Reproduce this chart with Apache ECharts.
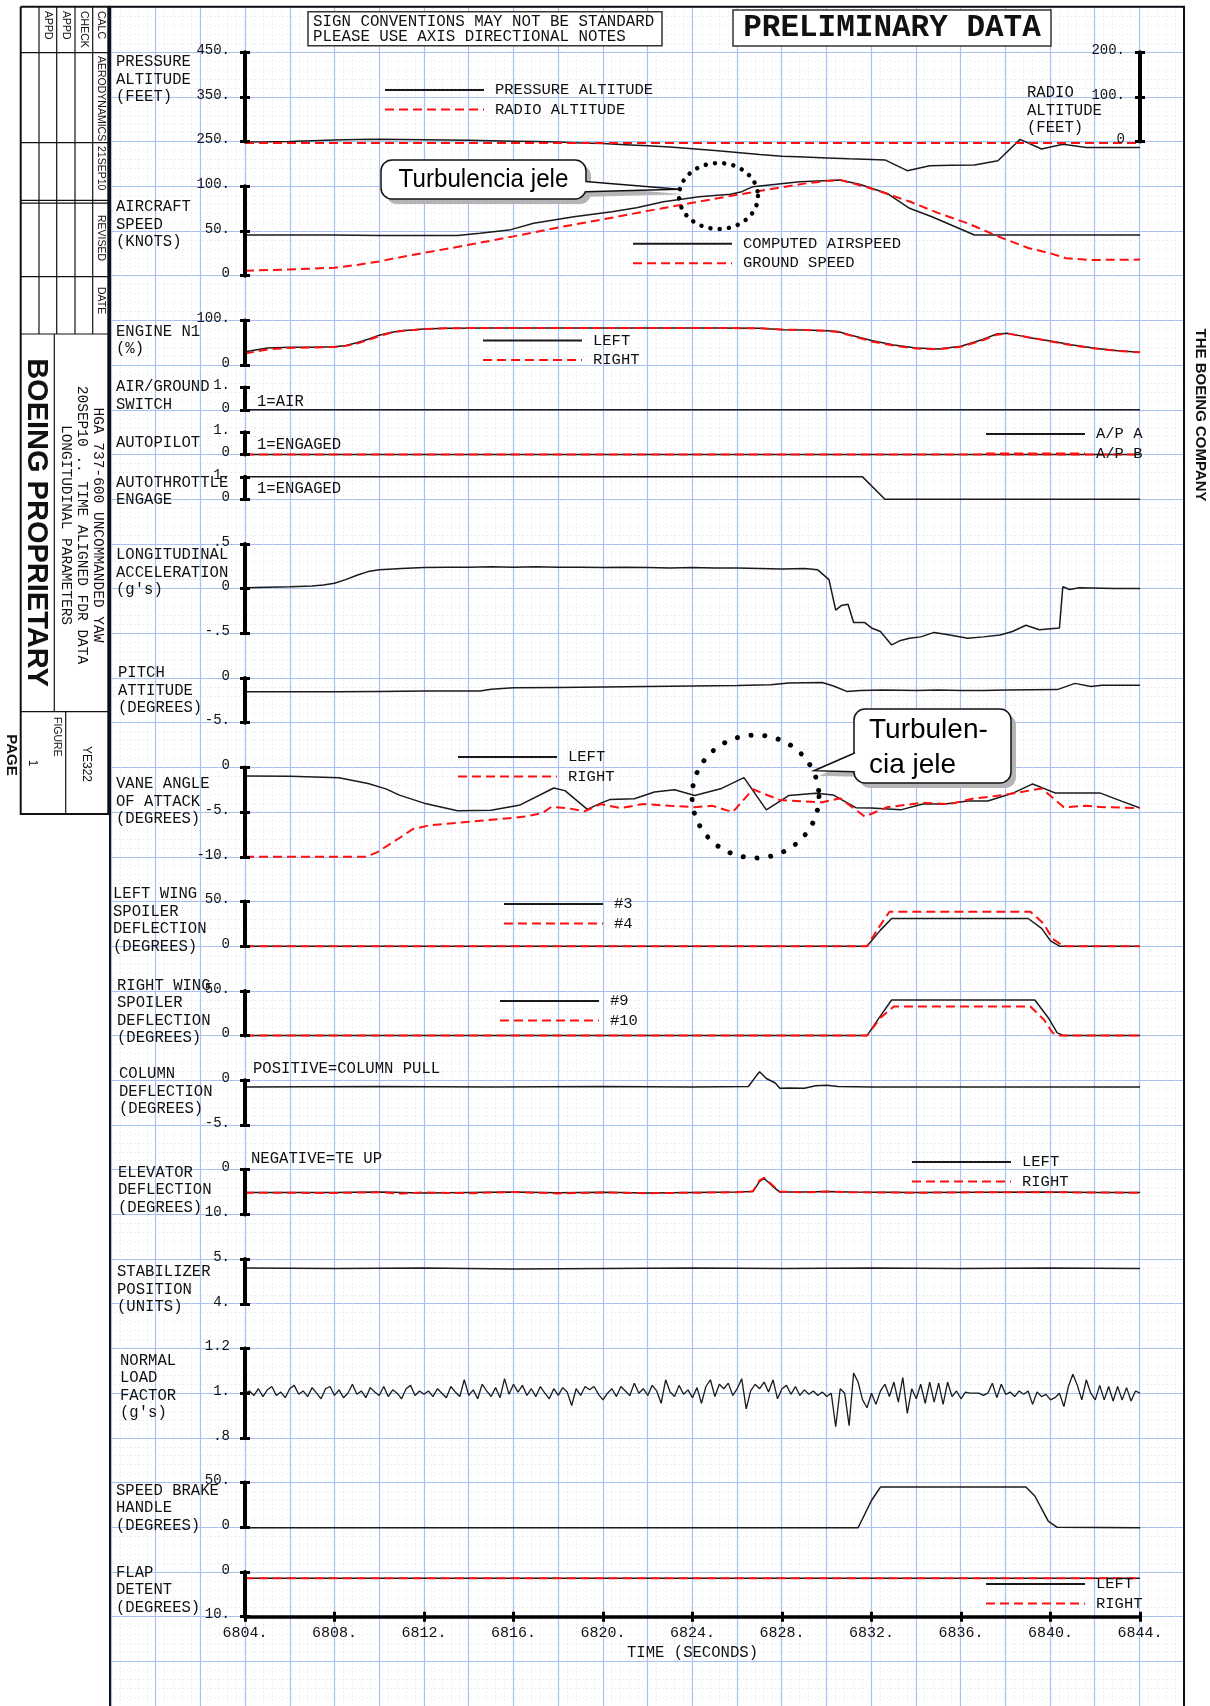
<!DOCTYPE html>
<html><head><meta charset="utf-8">
<script src="https://cdn.jsdelivr.net/npm/echarts@6/dist/echarts.min.js"></script>
<style>html,body{margin:0;padding:0;background:#fff}#chart{width:1210px;height:1706px}</style>
</head><body><div id="chart"></div>
<script>
// ---------------- DATA (time in seconds, value) ----------------
const pressureAltitude = [[6804,249],[6805,249.5],[6806,250.5],[6807,252],[6808,253.5],[6809,254.5],[6810,255],[6811,254.5],[6812,254],[6813,253.5],[6814,253],[6815,252],[6816,251],[6817,250],[6818,249],[6819,247],[6820,245.5],[6821,243],[6822,240.5],[6823,238],[6824,234],[6825,230],[6826,225.5],[6827,221],[6828,217.5],[6829,215.5],[6830,213.5],[6831,211.5],[6832,210],[6832.6,209],[6833.6,185],[6834.6,196],[6835.6,197],[6836.6,197.5],[6837.65,207],[6838.64,255],[6839.6,233.5],[6840.56,244],[6841.6,237],[6844,237]];
const radioAltitude = [[6804,-3],[6824,-3],[6844,-3]];
const computedAirspeed = [[6804,45.5],[6806,45.5],[6808,45.5],[6810,45],[6812,45],[6813.5,45],[6814.5,47.5],[6815.8,51],[6816.9,58.6],[6818.7,66],[6820.4,71.6],[6821.5,76],[6822.7,82.8],[6824.3,88.4],[6825.7,91],[6826.2,94],[6826.7,99.6],[6828.8,105],[6830.6,107],[6831.5,102],[6832.7,92],[6833.7,75.4],[6834.7,66],[6836.6,45.5],[6844,45.5]];
const groundSpeed = [[6804,5.5],[6806,7],[6808,9],[6809,12],[6810,16],[6811,21],[6812,25.5],[6814,34.5],[6816,44],[6818,54],[6820,63],[6822,72.5],[6824,81.5],[6826,90.5],[6828,99],[6829,103],[6830,106],[6830.6,107],[6831.8,99],[6833,89],[6833.7,83],[6835,70],[6836.3,58.6],[6837.7,43.6],[6839,31],[6840,25],[6840.7,19.5],[6841.8,17.6],[6844,18]];
const n1Left = [[6804,30],[6805,38],[6806,40],[6807,40],[6808,41],[6808.5,44],[6809,50],[6809.5,58],[6810,67],[6810.5,73],[6811,77],[6812,81],[6813,82.5],[6815,83],[6820,83],[6825,83],[6827,82.5],[6828,79],[6829,78.5],[6830,77],[6830.5,75],[6831,68],[6832,55],[6833,45],[6834,38],[6835,36],[6836,42],[6837,58],[6837.6,69.5],[6838.1,71],[6839,62],[6840,54],[6841,45],[6842,37.5],[6843,32],[6844,29]];
const n1Right = [[6804,26],[6805,35],[6806,38.5],[6807,39.5],[6808,40.5],[6808.5,43],[6809,48],[6809.5,56],[6810,65],[6810.5,72],[6811,76.5],[6812,80.5],[6813,82.5],[6815,83],[6820,83],[6825,83],[6827,82.5],[6828,79.5],[6829,78.5],[6830,76.5],[6830.5,74],[6831,67],[6832,53],[6833,43.5],[6834,37],[6835,35.5],[6836,41],[6837,56],[6837.6,68],[6838.1,70.5],[6839,62.5],[6840,53],[6841,44],[6842,37],[6843,31.5],[6844,28.5]];
const airGround = [[6804,0],[6844,0]];
const autopilotA = [[6804,0],[6844,0]];
const autopilotB = [[6804,0],[6844,0]];
const autothrottle = [[6804,1],[6831.6,1],[6832.6,0],[6844,0]];
const longAccel = [[6804,0.01],[6805,0.015],[6806,0.02],[6807,0.03],[6807.5,0.04],[6808,0.06],[6808.5,0.1],[6809,0.15],[6809.5,0.19],[6810,0.21],[6811,0.225],[6812,0.235],[6813,0.24],[6814,0.24],[6815,0.245],[6816,0.24],[6817,0.245],[6818,0.24],[6819,0.24],[6820,0.235],[6821,0.24],[6822,0.235],[6823,0.23],[6824,0.235],[6825,0.23],[6826,0.23],[6827,0.225],[6828,0.22],[6829,0.225],[6829.6,0.21],[6830.1,0.1],[6830.4,-0.24],[6830.65,-0.19],[6830.95,-0.175],[6831.2,-0.38],[6831.7,-0.38],[6832,-0.44],[6832.4,-0.48],[6832.9,-0.63],[6833.3,-0.58],[6833.7,-0.555],[6834.2,-0.54],[6834.8,-0.49],[6835.5,-0.52],[6836.3,-0.555],[6837,-0.54],[6837.75,-0.52],[6838.3,-0.48],[6838.9,-0.41],[6839.5,-0.46],[6840.4,-0.44],[6840.55,0.02],[6840.85,-0.01],[6841.3,0.01],[6842.8,0],[6844,0]];
const pitchAttitude = [[6804,-1.55],[6808,-1.55],[6810,-1.5],[6812,-1.45],[6814.5,-1.45],[6815,-1.25],[6816,-1.1],[6818,-1.05],[6820,-1.0],[6822,-0.95],[6824,-0.9],[6826,-0.85],[6827.5,-0.75],[6828.3,-0.55],[6829.8,-0.5],[6830.3,-0.9],[6830.9,-1.5],[6831.5,-1.4],[6832.5,-1.35],[6834,-1.4],[6835,-1.35],[6836,-1.4],[6837,-1.4],[6838,-1.35],[6840.3,-1.3],[6841.1,-0.6],[6841.8,-0.95],[6842.3,-0.8],[6844,-0.8]];
const aoaLeft = [[6804,-0.95],[6806,-1.0],[6808.2,-1.15],[6809.5,-1.8],[6810.3,-2.4],[6810.9,-3.1],[6812,-4.0],[6813.5,-4.85],[6815,-4.8],[6816.3,-4.2],[6817.8,-2.3],[6818.3,-2.6],[6819.3,-4.7],[6819.9,-4.0],[6820.3,-3.6],[6821.4,-3.5],[6822.3,-2.75],[6823.2,-2.5],[6824.1,-3.15],[6825.3,-2.35],[6826.3,-1.15],[6827.3,-4.75],[6828.3,-3.15],[6829.5,-2.9],[6830.3,-3.1],[6831.3,-4.5],[6832,-4.55],[6833.3,-4.75],[6834.3,-4.1],[6835.3,-4.1],[6836.3,-3.75],[6837.2,-3.75],[6838.3,-2.9],[6839.2,-1.85],[6840.2,-2.85],[6842.2,-2.85],[6843.2,-3.8],[6844,-4.55]];
const aoaRight = [[6804,-10],[6809.4,-10],[6809.9,-9.5],[6810.9,-7.9],[6811.5,-6.9],[6812.2,-6.5],[6813.5,-6.2],[6815.3,-5.8],[6816.5,-5.5],[6817.3,-5.1],[6817.7,-4.4],[6818.5,-4.6],[6819.2,-4.9],[6819.9,-4.1],[6820.8,-4.55],[6821.8,-4.1],[6823,-4.3],[6824.1,-4.45],[6824.9,-4.3],[6825.8,-5.0],[6826.7,-2.45],[6827.9,-3.65],[6829.8,-3.9],[6830.6,-3.45],[6831.7,-5.5],[6832.7,-4.45],[6834.3,-3.95],[6835.5,-4.1],[6836.5,-3.5],[6837.9,-3.1],[6839.6,-2.35],[6840.6,-4.45],[6841.6,-4.3],[6842.4,-4.45],[6844,-4.55]];
const spoiler3 = [[6804,0],[6831.8,0],[6832.4,18],[6832.9,31],[6839,31],[6839.6,20],[6840,6],[6840.4,0],[6844,0]];
const spoiler4 = [[6804,0],[6831.8,0],[6832.3,20],[6832.8,38.5],[6839.1,38.5],[6839.7,25],[6840.1,8],[6840.6,0],[6844,0]];
const spoiler9 = [[6804,0],[6831.8,0],[6832.4,22],[6832.9,39.8],[6839.3,39.8],[6839.9,20],[6840.3,3],[6840.6,0],[6844,0]];
const spoiler10 = [[6804,0],[6831.8,0],[6832.4,20],[6833,32.6],[6839.1,32.6],[6839.7,18],[6840.1,3],[6840.4,0],[6844,0]];
const columnDefl = [[6804,-0.75],[6810,-0.7],[6815,-0.75],[6820,-0.7],[6824,-0.75],[6826.5,-0.7],[6826.85,0.5],[6827,0.95],[6827.3,0.2],[6827.7,-0.3],[6827.9,-0.9],[6828.3,-0.85],[6829,-0.9],[6829.5,-0.6],[6830,-0.55],[6830.5,-0.7],[6832,-0.75],[6838,-0.75],[6844,-0.75]];
const elevatorLeft = [[6804,5.1],[6808,5.1],[6810,5.0],[6812,5.2],[6814,5.1],[6816,5.0],[6818,5.15],[6820,5.05],[6822,5.2],[6824,5.1],[6826,5.0],[6826.7,4.9],[6827,2.6],[6827.2,1.9],[6827.6,3.8],[6827.9,5.0],[6829,5.0],[6830,4.85],[6831,5.0],[6834,5.1],[6837,5.05],[6840,5.0],[6842,5.1],[6844,5.1]];
const elevatorRight = [[6804,5.15],[6808,5.2],[6810,5.05],[6811,5.35],[6812,5.1],[6814,5.25],[6816,5.0],[6818,5.3],[6820,5.1],[6822,5.25],[6824,5.15],[6826,5.05],[6826.7,4.8],[6827,2.4],[6827.2,1.8],[6827.6,3.6],[6827.9,4.9],[6829,5.05],[6830,4.9],[6831,5.05],[6834,5.15],[6837,5.05],[6840,5.05],[6842,5.1],[6844,5.15]];
const stabilizer = [[6804,4.8],[6808,4.79],[6812,4.8],[6816,4.78],[6820,4.79],[6824,4.8],[6828,4.79],[6832,4.8],[6836,4.79],[6840,4.8],[6844,4.79]];
const nlfStart = 6804, nlfStep = 0.2;
const normalLoad = [1.00,1.01,0.99,1.02,0.985,1.015,1.03,0.99,1.005,0.98,
1.02,1.035,0.995,1.01,0.985,1.025,1.0,0.975,1.02,1.03,
0.99,1.015,0.98,1.0,1.04,0.995,1.01,0.98,1.025,1.005,
0.99,1.03,0.985,1.015,1.0,0.975,1.02,1.035,0.99,1.01,
0.995,1.01,0.985,1.02,1.0,0.98,1.03,1.005,0.985,1.06,
0.99,1.015,0.975,1.04,1.01,0.985,1.025,0.98,1.065,0.995,
1.04,1.005,1.035,0.99,1.02,0.985,1.03,1.0,0.975,1.02,
0.99,1.025,1.005,0.945,1.02,0.99,1.03,1.015,1.03,0.995,
0.97,1.0,1.02,0.985,1.03,1.01,0.99,1.045,1.0,1.02,
0.99,1.035,1.01,0.955,1.06,1.005,0.985,1.035,0.995,1.015,
0.98,1.025,0.955,1.03,1.06,0.985,1.04,1.02,1.045,0.99,
1.02,1.065,0.93,1.01,1.04,1.02,1.05,1.005,1.06,0.975,
1.02,1.035,0.995,1.03,0.99,1.015,0.995,1.01,0.99,1.005,
0.985,1.0,0.85,1.02,1.0,0.855,1.09,1.05,0.97,0.935,
1.0,0.95,1.01,1.04,0.985,1.05,0.96,1.07,0.91,1.02,
0.975,1.04,0.955,1.05,0.96,1.045,0.95,1.05,0.985,1.01,
0.975,1.005,1.0,1.0,1.0,0.99,1.0,1.045,0.98,1.04,
0.995,1.005,0.985,1.01,0.995,1.01,0.95,1.005,0.985,0.995,
0.97,0.98,1.0,0.94,1.03,1.085,1.035,0.97,1.06,1.0,
0.97,1.035,0.97,1.03,0.965,1.03,0.97,1.025,0.965,1.01,1.0];
const speedBrake = [[6804,-0.5],[6831.4,-0.5],[6832,30],[6832.4,45],[6838.9,45],[6839.3,35],[6839.9,7],[6840.3,0],[6844,-0.5]];
const flapLeft = [[6804,1.4],[6844,1.4]];
const flapRight = [[6804,1.4],[6844,1.4]];

// ---------------- LAYOUT ----------------
const MONO = "'Liberation Mono', 'DejaVu Sans Mono', monospace";
const SANS = "'Liberation Sans', Arial, sans-serif";
const CELL = 44.7, TOP0 = 7.5;
const rowY = k => TOP0 + CELL * k;
const BLACK = {color:'#1a1a1a', width:1.5, type:'solid'};
const RED = {color:'#ff1010', width:2, type:[9,5]};

function fmt(v){
  if (Math.abs(v) < 1e-9) return '0';
  const r = Math.round(v*1000)/1000;
  if (Number.isInteger(r)) return r + '.';
  return String(r).replace(/^(-?)0\./, '$1.');
}

const grids = [], xAxes = [], yAxes = [], series = [];
grids.push({left:111, top:TOP0, width:1073, height:CELL*38});
const bgSplit = {show:true, lineStyle:{color:'#a8c1f3', width:1.2}};
const bgMinor = {show:true, lineStyle:{color:'#e2e2e2', width:1, type:[1,3]}};
xAxes.push({gridIndex:0, type:'value', min:6798, max:6846, interval:2, axisLine:{show:false}, axisTick:{show:false}, axisLabel:{show:false}, splitLine:bgSplit, minorTick:{show:false, splitNumber:5}, minorSplitLine:bgMinor});
yAxes.push({gridIndex:0, type:'value', inverse:true, min:0, max:38, interval:1, axisLine:{show:false}, axisTick:{show:false}, axisLabel:{show:false}, splitLine:bgSplit, minorTick:{show:false, splitNumber:5}, minorSplitLine:bgMinor});

const panels = [
 {id:'pa', k0:1, k1:3, min:250, max:450, interval:100},
 {id:'spd', k0:4, k1:6, min:0, max:100, interval:50},
 {id:'n1', k0:7, k1:8, min:0, max:100, interval:100},
 {id:'ag', k0:8.5, k1:9, min:0, max:1, interval:1},
 {id:'ap', k0:9.5, k1:10, min:0, max:1, interval:1},
 {id:'at', k0:10.5, k1:11, min:0, max:1, interval:1},
 {id:'la', k0:12, k1:14, min:-0.5, max:0.5, interval:0.5},
 {id:'pitch', k0:15, k1:16, min:-5, max:0, interval:5},
 {id:'aoa', k0:17, k1:19, min:-10, max:0, interval:5},
 {id:'lsp', k0:20, k1:21, min:0, max:50, interval:50},
 {id:'rsp', k0:22, k1:23, min:0, max:50, interval:50},
 {id:'col', k0:24, k1:25, min:-5, max:0, interval:5},
 {id:'elev', k0:26, k1:27, min:0, max:10, interval:10, inverse:true},
 {id:'stab', k0:28, k1:29, min:4, max:5, interval:1},
 {id:'nlf', k0:30, k1:32, min:0.8, max:1.2, interval:0.2},
 {id:'sb', k0:33, k1:34, min:0, max:50, interval:50},
 {id:'flap', k0:35, k1:36, min:0, max:10, interval:10, inverse:true, bottom:true}
];
const P = {};
const labelStyle = {show:true, margin:15, formatter:fmt, color:'#111', fontFamily:MONO, fontSize:14, verticalAlign:'bottom', lineHeight:4};
function yPair(gi, p, position, inside){
  const base = {gridIndex:gi, type:'value', min:p.min, max:p.max, interval:p.interval, inverse:!!p.inverse, position, splitLine:{show:false}, minorSplitLine:{show:false}};
  const idx = yAxes.length;
  yAxes.push(Object.assign({}, base, {axisLine:{show:true, onZero:false, lineStyle:{color:'#000', width:4}}, axisTick:{show:true, length:5, lineStyle:{color:'#000', width:3}}, axisLabel:Object.assign({}, labelStyle, {inside:!!inside}), z:5}));
  yAxes.push(Object.assign({}, base, {axisLine:{show:false, onZero:false}, axisTick:{show:true, inside:true, length:5, lineStyle:{color:'#000', width:3}}, axisLabel:{show:false}, z:5}));
  return idx;
}
panels.forEach(p => {
  const gi = grids.length;
  grids.push({left:245, width:895, top:rowY(p.k0), height:rowY(p.k1)-rowY(p.k0)});
  const xi = xAxes.length;
  if (p.bottom) {
    const xb = {gridIndex:gi, type:'value', min:6804, max:6844, interval:4, position:'bottom', splitLine:{show:false}};
    xAxes.push(Object.assign({}, xb, {axisLine:{show:true, onZero:false, lineStyle:{color:'#000', width:3.5}}, axisTick:{show:true, length:5, lineStyle:{color:'#000', width:3}},
      axisLabel:{show:true, margin:9, formatter:v => v + '.', color:'#111', fontFamily:MONO, fontSize:15},
      name:'TIME (SECONDS)', nameLocation:'middle', nameGap:28, nameTextStyle:{fontFamily:MONO, fontSize:15.6, color:'#111'}, z:5}));
    xAxes.push(Object.assign({}, xb, {axisLine:{show:false, onZero:false}, axisTick:{show:true, inside:true, length:5, lineStyle:{color:'#000', width:3}}, axisLabel:{show:false}, z:5}));
  } else {
    xAxes.push({gridIndex:gi, type:'value', min:6804, max:6844, show:false});
  }
  const yi = yPair(gi, p, 'left', false);
  P[p.id] = {xi, yi, gi};
});
P.ra = {xi:P.pa.xi, yi:yPair(P.pa.gi, {min:0, max:200, interval:100}, 'right', true)};

function line(name, data, pid, style){
  series.push({name, type:'line', xAxisIndex:P[pid].xi, yAxisIndex:P[pid].yi, data, symbol:'none', showSymbol:false, clip:false, z:3,
    lineStyle:style, itemStyle:{color:style.color}, emphasis:{disabled:true}});
}
line('PRESSURE ALTITUDE', pressureAltitude, 'pa', BLACK);
line('RADIO ALTITUDE', radioAltitude, 'ra', RED);
line('COMPUTED AIRSPEED', computedAirspeed, 'spd', BLACK);
line('GROUND SPEED', groundSpeed, 'spd', RED);
line('LEFT', n1Left, 'n1', BLACK);
line('RIGHT', n1Right, 'n1', RED);
line('AIR/GROUND', airGround, 'ag', BLACK);
line('A/P A', autopilotA, 'ap', BLACK);
line('A/P B', autopilotB, 'ap', RED);
line('AUTOTHROTTLE', autothrottle, 'at', BLACK);
line('LONG ACCEL', longAccel, 'la', BLACK);
line('PITCH', pitchAttitude, 'pitch', BLACK);
line('LEFT', aoaLeft, 'aoa', BLACK);
line('RIGHT', aoaRight, 'aoa', RED);
line('#3', spoiler3, 'lsp', BLACK);
line('#4', spoiler4, 'lsp', RED);
line('#9', spoiler9, 'rsp', BLACK);
line('#10', spoiler10, 'rsp', RED);
line('COLUMN', columnDefl, 'col', BLACK);
line('LEFT', elevatorLeft, 'elev', BLACK);
line('RIGHT', elevatorRight, 'elev', RED);
line('STABILIZER', stabilizer, 'stab', BLACK);
line('NORMAL LOAD', normalLoad.map((v,i) => [nlfStart + i*nlfStep, v]), 'nlf', {color:'#1a1a1a', width:1.3, type:'solid'});
line('SPEED BRAKE', speedBrake, 'sb', BLACK);
line('LEFT', flapLeft, 'flap', BLACK);
line('RIGHT', flapRight, 'flap', RED);

function legend(left, top, names){
  return {orient:'vertical', left, top, padding:0, itemWidth:99, itemHeight:14, itemGap:3.5, data:names, selectedMode:false,
    itemStyle:{opacity:0}, textStyle:{fontFamily:MONO, fontSize:15.5, color:'#111', lineHeight:14, padding:[0,0,0,6]}};
}
const legends = [
  legend(384, 82, ['PRESSURE ALTITUDE','RADIO ALTITUDE']),
  legend(632, 235.7, ['COMPUTED AIRSPEED','GROUND SPEED']),
  legend(482, 332.5, ['LEFT','RIGHT']),
  legend(985, 426, ['A/P A','A/P B']),
  legend(457, 749, ['LEFT','RIGHT']),
  legend(503, 896, ['#3','#4']),
  legend(499, 993, ['#9','#10']),
  legend(911, 1154, ['LEFT','RIGHT']),
  legend(985, 1576, ['LEFT','RIGHT'])
];

// ---------------- GRAPHIC DECORATIONS ----------------
const G = [];
function T(x, y, text, o){
  o = o || {};
  const lh = o.lh || 17.5;
  const valign = o.valign || (o.multi ? 'top' : 'middle');
  G.push({type:'text', x, y: o.multi ? y - lh/2 : y, rotation:o.rot || 0, scaleX:o.sx || 1, z:o.z || 60, silent:true,
    style:{text, fill:o.color || '#111', fontSize:o.size || 15.6, fontFamily:o.family || MONO, fontWeight:o.weight || 'normal',
      lineHeight:lh, textAlign:o.align || 'left', align:o.align || 'left', textVerticalAlign:valign, verticalAlign:valign}});
}
function L(points, w){ G.push({type:'polyline', z:70, silent:true, shape:{points}, style:{stroke:'#111', lineWidth:w || 1.2, fill:null}}); }
L([[110,1706],[110,6.7],[1184,6.7],[1184,1706]], 2);
L([[20.7,6.7],[110,6.7]], 2);
L([[20.7,6.7],[20.7,814],[108.3,814],[108.3,6.7]], 2);
[39,56.7,75,92.7].forEach(x => L([[x,6.7],[x,334]], 1.2));
[52.7,142.7,200.3,203.1,276.7,334,711.7].forEach(y => L([[20.7,y],[108.3,y]], 1.2));
L([[54.3,334],[54.3,711.7]], 1.2);
L([[65.7,711.7],[65.7,814]], 1.2);
const R = -Math.PI/2;
T(100.5, 11, 'CALC', {rot:R, size:10.5, family:SANS});
T(83.8, 11, 'CHECK', {rot:R, size:10.5, family:SANS});
T(66, 11, 'APPD', {rot:R, size:10.5, family:SANS});
T(47.5, 11, 'APPD', {rot:R, size:10.5, family:SANS});
T(100.5, 56, 'AERODYNAMICS', {rot:R, size:10.5, family:SANS});
T(100.5, 146, '21SEP10', {rot:R, size:10.5, family:SANS});
T(100.5, 215, 'REVISED', {rot:R, size:10.5, family:SANS});
T(100.5, 287, 'DATE', {rot:R, size:10.5, family:SANS});
T(35.5, 522.5, 'BOEING PROPRIETARY', {rot:R, size:29, family:SANS, weight:'bold', align:'center'});
T(98, 525, 'HGA 737-600 UNCOMMANDED YAW', {rot:R, size:14.5, align:'center'});
T(81.7, 525, '20SEP10 .. TIME ALIGNED FDR DATA', {rot:R, size:14.5, align:'center'});
T(65.7, 525, 'LONGITUDINAL PARAMETERS', {rot:R, size:14.5, align:'center'});
T(56.7, 717, 'FIGURE', {rot:R, size:10.5, family:SANS});
T(32, 763, '1', {rot:R, size:12, family:SANS, align:'center'});
T(86, 764, 'YE322', {rot:R, size:12, family:SANS, align:'center'});
T(11, 755, 'PAGE', {rot:R, size:15, family:SANS, weight:'bold', align:'center'});
T(1200, 415, 'THE BOEING COMPANY', {rot:R, size:15, family:SANS, weight:'bold', align:'center'});
G.push({type:'rect', z:60, silent:true, shape:{x:308, y:11.7, width:354, height:34}, style:{fill:'#fff', stroke:'#333', lineWidth:1.5}});
T(313, 21.5, 'SIGN CONVENTIONS MAY NOT BE STANDARD', {size:15.8, z:61});
T(313, 36.5, 'PLEASE USE AXIS DIRECTIONAL NOTES', {size:15.8, z:61});
G.push({type:'rect', z:60, silent:true, shape:{x:733, y:10, width:318, height:36}, style:{fill:'#fff', stroke:'#333', lineWidth:1.5}});
T(892, 28.5, 'PRELIMINARY DATA', {size:31, weight:'bold', align:'center', z:61});
const titles = [
 [116, 62.3, 'PRESSURE\nALTITUDE\n(FEET)'],
 [116, 207, 'AIRCRAFT\nSPEED\n(KNOTS)'],
 [116, 331.7, 'ENGINE N1\n(%)'],
 [116, 387.3, 'AIR/GROUND\nSWITCH'],
 [116, 443.3, 'AUTOPILOT'],
 [116, 482.7, 'AUTOTHROTTLE\nENGAGE'],
 [116, 555, "LONGITUDINAL\nACCELERATION\n(g's)"],
 [118, 673.3, 'PITCH\nATTITUDE\n(DEGREES)'],
 [116, 784, 'VANE ANGLE\nOF ATTACK\n(DEGREES)'],
 [113, 894.3, 'LEFT WING\nSPOILER\nDEFLECTION\n(DEGREES)'],
 [117, 985.7, 'RIGHT WING\nSPOILER\nDEFLECTION\n(DEGREES)'],
 [119, 1074, 'COLUMN\nDEFLECTION\n(DEGREES)'],
 [118, 1172.7, 'ELEVATOR\nDEFLECTION\n(DEGREES)'],
 [117, 1272.3, 'STABILIZER\nPOSITION\n(UNITS)'],
 [120, 1360.7, "NORMAL\nLOAD\nFACTOR\n(g's)"],
 [116, 1490.7, 'SPEED BRAKE\nHANDLE\n(DEGREES)'],
 [116, 1572.7, 'FLAP\nDETENT\n(DEGREES)'],
 [1027, 93, 'RADIO\nALTITUDE\n(FEET)']
];
titles.forEach(t => T(t[0], t[1], t[2], {multi:true}));
T(257, 401.7, '1=AIR');
T(257, 445, '1=ENGAGED');
T(257, 489, '1=ENGAGED');
T(253, 1069, 'POSITIVE=COLUMN PULL');
T(251, 1159, 'NEGATIVE=TE UP');

// callouts: rounded box + pointer, with grey shadow
function callout(box, ptr, z){
  const [x, y, w, h] = box;
  G.push({type:'rect', z:z, silent:true, shape:{x:x+5, y:y+5, width:w, height:h, r:11}, style:{fill:'#b4b4b4'}});
  G.push({type:'polygon', z:z, silent:true, shape:{points:ptr.map(p => [p[0]+5, p[1]+5])}, style:{fill:'#b4b4b4'}});
  G.push({type:'rect', z:z+1, silent:true, shape:{x, y, width:w, height:h, r:11}, style:{fill:'#fff', stroke:'#111', lineWidth:1.5}});
  G.push({type:'polyline', z:z+2, silent:true, shape:{points:ptr}, style:{stroke:'#111', lineWidth:1.5, fill:'#fff'}});
}
callout([381, 160, 205, 39], [[585.3,181.5],[679,189.3],[585.3,191.7]], 80);
G.push({type:'rect', z:83, silent:true, shape:{x:584, y:182.6, width:3, height:8}, style:{fill:'#fff'}});
T(483.5, 180, 'Turbulencia jele', {size:26, family:SANS, align:'center', color:'#000', sx:0.93, z:84});
callout([854, 709, 157, 74], [[854.7,753],[814,770.7],[854.7,771.7]], 80);
G.push({type:'rect', z:83, silent:true, shape:{x:853, y:754.5, width:3, height:16}, style:{fill:'#fff'}});
G.push({type:'text', z:84, silent:true, x:869, y:713.5, style:{text:'Turbulen-\ncia jele', fill:'#000', fontSize:28, fontFamily:SANS, lineHeight:34.3, textAlign:'left', align:'left', textVerticalAlign:'top', verticalAlign:'top'}});
// dotted ellipses
function dotted(cx, cy, rx, ry, gap, w){
  const pts = [];
  for (let i = 0; i <= 96; i++) { const a = i/96*2*Math.PI; pts.push([cx + rx*Math.cos(a), cy + ry*Math.sin(a)]); }
  G.push({type:'polyline', z:85, silent:true, shape:{points:pts}, style:{fill:null, stroke:'#000', lineWidth:w, lineDash:[0.01, gap], lineCap:'round'}});
}
dotted(718.5, 196, 39.5, 33, 9.3, 4.5);
dotted(755.5, 796.5, 63.5, 61.5, 13.8, 5);

const chart = echarts.init(document.getElementById('chart'), null, {renderer:'canvas'});
chart.setOption({
  animation:false,
  backgroundColor:'#fff',
  grid:grids, xAxis:xAxes, yAxis:yAxes, series, legend:legends,
  graphic:{elements:G}
});
</script></body></html>
